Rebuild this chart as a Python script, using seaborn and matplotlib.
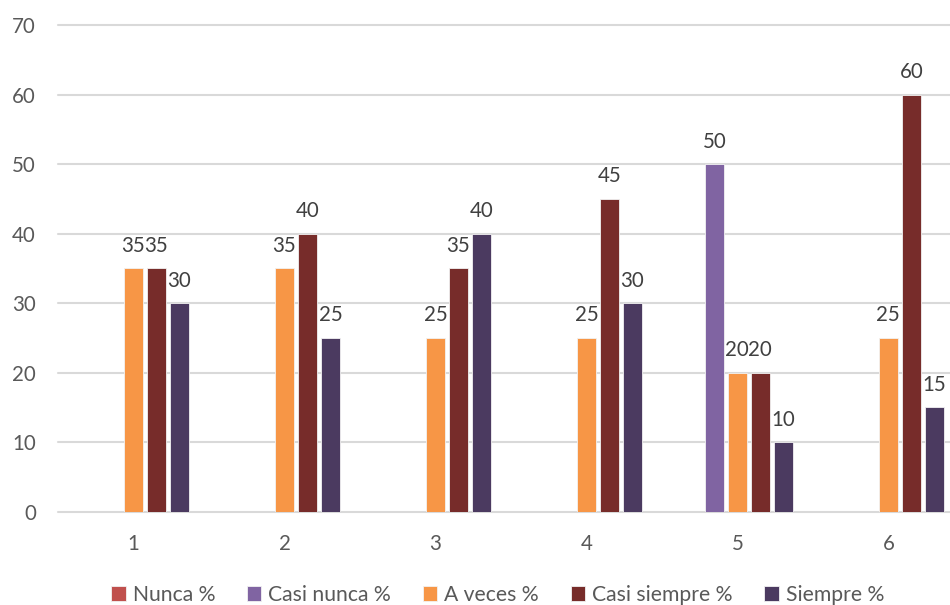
import matplotlib
matplotlib.use("Agg")
import matplotlib.pyplot as plt
import seaborn as sns
import pandas as pd

# Survey answer frequencies per item (percent)
grupos = ["1", "2", "3", "4", "5", "6"]
series = ["Nunca %", "Casi nunca %", "A veces %", "Casi siempre %", "Siempre %"]
nunca = [0, 0, 0, 0, 0, 0]
casi_nunca = [0, 0, 0, 0, 50, 0]
a_veces = [35, 35, 25, 25, 20, 25]
casi_siempre = [35, 40, 35, 45, 20, 60]
siempre = [30, 25, 40, 30, 10, 15]
y_ticks = [0, 10, 20, 30, 40, 50, 60, 70]

colores = ["#C0504D", "#8064A2", "#F79646", "#772C2A", "#4B3A60"]

valores = [nunca, casi_nunca, a_veces, casi_siempre, siempre]
df = pd.DataFrame(
    [(g, s, v) for s, vals in zip(series, valores) for g, v in zip(grupos, vals)],
    columns=["grupo", "serie", "valor"],
)

sns.set_theme(style="white")
plt.rcParams["font.family"] = ["Lato", "DejaVu Sans"]

fig = plt.figure(figsize=(9.5, 6.05), dpi=100)
ax = fig.add_axes([58 / 950, 93.5 / 605, 905.8 / 950, 486.2 / 605])

sns.barplot(
    data=df, x="grupo", y="valor", hue="serie",
    order=grupos, hue_order=series, palette=colores,
    width=0.7616, gap=0.196, errorbar=None,
    edgecolor="#F2F2F2", linewidth=0.6, saturation=1, ax=ax,
)

for cont, vals in zip(ax.containers, valores):
    etiquetas = [f"{v:g}" if v else "" for v in vals]
    ax.bar_label(cont, labels=etiquetas, padding=9, fontsize=14.8, color="#404040")

ax.set_ylim(0, 70)
ax.set_xlim(-0.5, 5.5)
ax.set_yticks(y_ticks)
ax.set_xlabel("")
ax.set_ylabel("")
ax.tick_params(axis="both", length=0, labelsize=14.8, colors="#595959", pad=16)
ax.yaxis.grid(True, color="#D9D9D9", linewidth=1.5)
ax.set_axisbelow(True)
for gl in ax.yaxis.get_gridlines():
    gl.set_clip_on(False)
for sp in ax.spines.values():
    sp.set_visible(False)

leg = ax.get_legend()
handles = leg.legend_handles
labels = [t.get_text() for t in leg.texts]
leg.remove()
fig.legend(
    handles, labels, loc="center", bbox_to_anchor=(497.7 / 950, 10 / 605),
    ncol=5, frameon=False, fontsize=15.2, labelcolor="#595959",
    handlelength=0.68, handleheight=0.68, handletextpad=0.34,
    columnspacing=1.5, borderpad=0, borderaxespad=0,
)

fig.savefig("out.png", dpi=100)
